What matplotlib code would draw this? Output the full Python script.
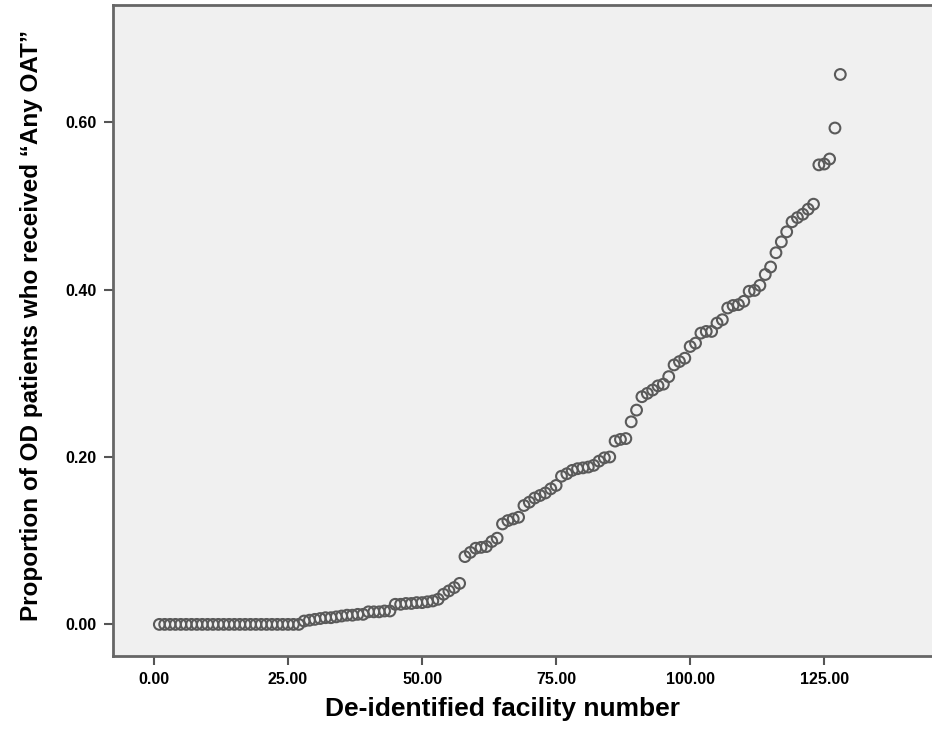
import numpy as np
import matplotlib
matplotlib.use("Agg")
import matplotlib.pyplot as plt

plt.rcParams["font.family"] = ["Liberation Sans", "DejaVu Sans"]

# facility index and proportion receiving any OAT (sorted ascending)
facility = np.arange(1, 129)
zeros = [0.0] * 27
low_part = [0.004, 0.005, 0.006, 0.007, 0.008, 0.008, 0.009, 0.010, 0.011, 0.011, 0.012, 0.012,
            0.015, 0.015, 0.015, 0.016, 0.016,
            0.024, 0.024, 0.025, 0.025, 0.026, 0.026, 0.027, 0.028, 0.030,
            0.036, 0.040, 0.044, 0.049]
mid_part = [0.081, 0.086, 0.091, 0.092, 0.093, 0.099, 0.103,
            0.120, 0.124, 0.126, 0.128,
            0.142, 0.146, 0.151, 0.154, 0.157, 0.162, 0.166,
            0.177, 0.180, 0.184, 0.186, 0.187, 0.188, 0.190, 0.195, 0.199, 0.200]
high_part = [0.219, 0.221, 0.222, 0.242, 0.256, 0.272, 0.276, 0.280, 0.285, 0.287,
             0.296, 0.310, 0.314, 0.318, 0.332, 0.336, 0.348, 0.350, 0.350, 0.360,
             0.364, 0.378, 0.381, 0.382,
             0.386, 0.398, 0.399, 0.405, 0.418, 0.427, 0.444, 0.457, 0.469, 0.481,
             0.486, 0.490, 0.496, 0.502, 0.549, 0.550, 0.556, 0.593, 0.657]
proportion = np.array(zeros + low_part + mid_part + high_part)

x_ticks = [0, 25, 50, 75, 100, 125]
y_ticks = [0.0, 0.2, 0.4, 0.6]

fig = plt.figure(figsize=(9.32, 7.34), dpi=100)
ax = fig.add_axes([0.1212, 0.106, 0.8788, 0.8872])
ax.set_facecolor("#f0f0f0")

ax.scatter(facility, proportion, s=60, facecolors="none", edgecolors="#5a5a5a",
           linewidths=1.5, zorder=3)

ax.set_xlim(-7.65, 145.1)
ax.set_ylim(-0.038, 0.740)
ax.set_xticks(x_ticks)
ax.set_yticks(y_ticks)
ax.set_xticklabels([f"{t:.2f}" for t in x_ticks])
ax.set_yticklabels([f"{t:.2f}" for t in y_ticks])

for side in ["left", "bottom", "top"]:
    ax.spines[side].set_color("#666666")
    ax.spines[side].set_linewidth(2)
ax.spines["right"].set_visible(False)

ax.tick_params(axis="both", direction="out", length=6.5, width=1.5, color="#555555",
               labelsize=11.5, pad=5)
for lbl in ax.get_xticklabels() + ax.get_yticklabels():
    lbl.set_fontweight("bold")

ax.set_xlabel("De-identified facility number", fontsize=19, fontweight="bold")
ax.set_ylabel("Proportion of OD patients who received \u201cAny OAT\u201d", fontsize=17.5,
              fontweight="bold")
ax.xaxis.set_label_coords(0.4756, -0.063)
ax.yaxis.set_label_coords(-0.085, 0.508)

fig.savefig("out.png", dpi=100)
plt.close(fig)
